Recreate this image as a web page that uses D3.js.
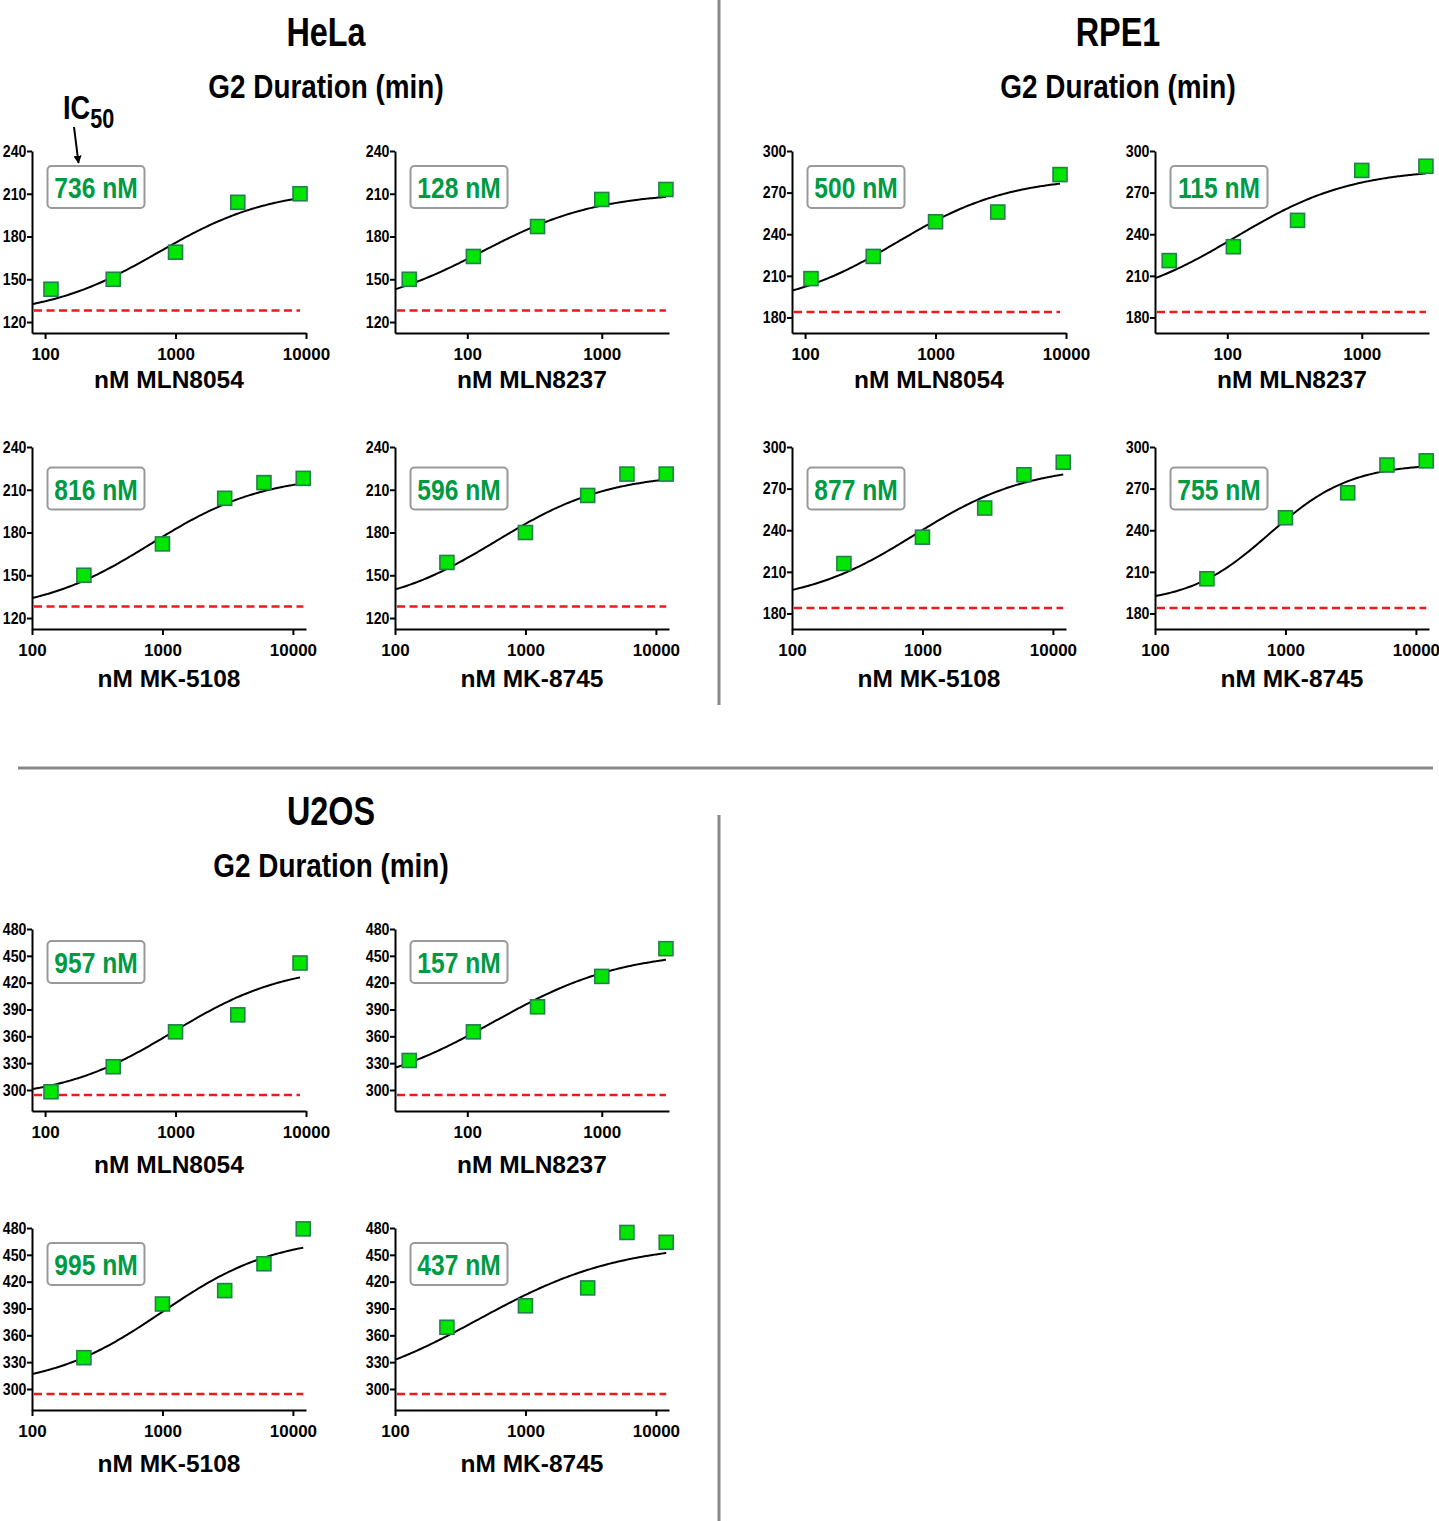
<!DOCTYPE html>
<html><head><meta charset="utf-8">
<script src="https://cdn.jsdelivr.net/npm/d3@7"></script>
<style>body{margin:0;background:#fff} svg{display:block}</style>
</head><body>
<svg id="c" width="1439" height="1521"></svg>
<script>
// ---------------- DATA ----------------
const cellLines = ["HeLa", "RPE1", "U2OS"];
const drugs = ["MLN8054", "MLN8237", "MK-5108", "MK-8745"];
const dosesMLN8054 = [111, 333, 1000, 3000, 9000];
const dosesMLN8237 = [37, 111, 333, 1000, 3000];
const dosesMK5108 = [250, 1000, 3000, 6000, 12000];
const dosesMK8745 = [250, 1000, 3000, 6000, 12000];

// G2 duration (min) per drug (rows follow `drugs`)
const helaValues = [[143,150,169,204,210],[150,166,187,206,213],[150,172,204,215,218],[159,180,206,221,221]];
const rpe1Values = [[208,224,249,256,283],[221,231,250,286,289],[216,235,256,280,289],[205,249,267,287,290]];
const u2osValues = [[298,326,365,384,442],[333,365,393,427,458],[335,395,410,440,479],[369,393,413,475,464]];

// IC50 (nM)
const helaIC50 = [736, 128, 816, 596];
const rpe1IC50 = [500, 115, 877, 755];
const u2osIC50 = [957, 157, 995, 437];

// fitted curve parameters (bottom, top, Hill slope)
const helaBottom = [123.8, 127.5, 123.4, 126.3];
const helaTop    = [213.8, 211.2, 220.7, 221.7];
const helaHill   = [1, 1, 1, 1];
const rpe1Bottom = [186.3, 188.3, 186.7, 186.9];
const rpe1Top    = [281.5, 287.5, 287.0, 288.1];
const rpe1Hill   = [1, 1, 1, 1.4];
const u2osBottom = [289.4, 296.2, 301.2, 292.5];
const u2osTop    = [440.4, 456.1, 471.0, 463.3];
const u2osHill   = [1, 0.9, 1, 0.8];

// control (untreated) G2 duration, red dashed line
const helaControl = 128;
const rpe1Control = 184;
const u2osControl = 294.5;

// tick labels
const helaTicks = [120, 150, 180, 210, 240];
const rpe1Ticks = [180, 210, 240, 270, 300];
const u2osTicks = [300, 330, 360, 390, 420, 450, 480];
const xTicksWide = [100, 1000, 10000];
const xTicksMLN8237 = [100, 1000];

// ---------------- LAYOUT ----------------
const svg = d3.select("#c");
const FONT = "'Liberation Sans', Arial, Helvetica, sans-serif";
const GREEN = "#009a44";
const W = 274, H = 182;
const rowTop = [151, 447, 929, 1228];
const colLeft = [32, 395];
const rowXTitle = [388.3, 687, 1173, 1472];
const rowBoxOff = [15, 20.5, 12, 15];

const blocks = [
  {name: cellLines[0], values: helaValues, ic50: helaIC50, bottom: helaBottom, top: helaTop, hill: helaHill, control: helaControl, yTicks: helaTicks, yDomain: [112.3, 240], dx: 0, rows: [0, 1]},
  {name: cellLines[1], values: rpe1Values, ic50: rpe1IC50, bottom: rpe1Bottom, top: rpe1Top, hill: rpe1Hill, control: rpe1Control, yTicks: rpe1Ticks, yDomain: [168.8, 300], dx: 760, rows: [0, 1]},
  {name: cellLines[2], values: u2osValues, ic50: u2osIC50, bottom: u2osBottom, top: u2osTop, hill: u2osHill, control: u2osControl, yTicks: u2osTicks, yDomain: [276.5, 480], dx: 0, rows: [2, 3]}
];
const drugDoses = [dosesMLN8054, dosesMLN8237, dosesMK5108, dosesMK8745];
const drugXDomain = [[79.4, 10000], [29, 3162], [100, 12600], [100, 12600]];
const drugXTicks = [xTicksWide, xTicksMLN8237, xTicksWide, xTicksWide];

function narrowText(g, x, y, txt, size, opts = {}) {
  return g.append("text")
    .attr("transform", `translate(${x},${y}) scale(${opts.sx || 0.82},1)`)
    .attr("text-anchor", opts.anchor || "middle")
    .attr("font-family", FONT).attr("font-weight", "bold")
    .attr("font-size", size).attr("fill", opts.fill || "#000")
    .text(txt);
}

// dividers
svg.append("line").attr("x1", 719).attr("x2", 719).attr("y1", 0).attr("y2", 705).attr("stroke", "#888").attr("stroke-width", 3);
svg.append("line").attr("x1", 18).attr("x2", 1433).attr("y1", 768).attr("y2", 768).attr("stroke", "#888").attr("stroke-width", 3);
svg.append("line").attr("x1", 719).attr("x2", 719).attr("y1", 815).attr("y2", 1521).attr("stroke", "#888").attr("stroke-width", 3);

// block titles
const titlePos = [[326, 46, 98], [1118, 46, 98], [331, 825, 877]];
blocks.forEach((b, bi) => {
  narrowText(svg, titlePos[bi][0], titlePos[bi][1], b.name, 41, {sx: 0.79});
  narrowText(svg, titlePos[bi][0], titlePos[bi][2], "G2 Duration (min)", 34, {sx: 0.82});
});

// IC50 annotation
const ic = svg.append("text").attr("transform", "translate(63,119) scale(0.8,1)")
  .attr("font-family", FONT).attr("font-weight", "bold").attr("font-size", 34);
ic.append("tspan").text("IC");
ic.append("tspan").attr("font-size", 27).attr("dy", 9).text("50");
svg.append("defs").append("marker").attr("id", "ah").attr("viewBox", "0 0 10 10")
  .attr("refX", 9).attr("refY", 5).attr("markerWidth", 4).attr("markerHeight", 4).attr("orient", "auto")
  .append("path").attr("d", "M0,0 L10,5 L0,10 z").attr("fill", "#000");
svg.append("line").attr("x1", 74).attr("y1", 127).attr("x2", 78.5).attr("y2", 163)
  .attr("stroke", "#000").attr("stroke-width", 2).attr("marker-end", "url(#ah)");

// panels
blocks.forEach(b => {
  drugs.forEach((drug, di) => {
    const row = b.rows[Math.floor(di / 2)];
    const col = di % 2;
    const left = b.dx + colLeft[col];
    const top = rowTop[row];
    const g = svg.append("g").attr("transform", `translate(${left},${top})`);
    const x = d3.scaleLog().domain(drugXDomain[di]).range([0, W]);
    const y = d3.scaleLinear().domain(b.yDomain).range([H, 0]);
    const doses = drugDoses[di];
    const vals = b.values[di];
    const xmin = drugXDomain[di][0], xmax = doses[doses.length - 1];

    // control dashed line
    g.append("line").attr("x1", x(xmin) + 2).attr("x2", x(xmax))
      .attr("y1", y(b.control)).attr("y2", y(b.control))
      .attr("stroke", "#f01818").attr("stroke-width", 2.5).attr("stroke-dasharray", "8,4.5");

    // fitted curve
    const bot = b.bottom[di], tp = b.top[di], h = b.hill[di], ic50 = b.ic50[di];
    const lx = d3.scaleLinear().domain([0, 120]).range([Math.log10(xmin), Math.log10(xmax)]);
    const pts = d3.range(121).map(i => {
      const xv = Math.pow(10, lx(i));
      return [xv, bot + (tp - bot) / (1 + Math.pow(ic50 / xv, h))];
    });
    g.append("path").datum(pts)
      .attr("d", d3.line().x(d => x(d[0])).y(d => y(d[1])).curve(d3.curveBasis))
      .attr("fill", "none").attr("stroke", "#000").attr("stroke-width", 2);

    // axes
    const ya = g.append("g").call(d3.axisLeft(y).tickValues(b.yTicks).tickSize(5).tickSizeOuter(0).tickPadding(1));
    const xa = g.append("g").attr("transform", `translate(0,${H})`)
      .call(d3.axisBottom(x).tickValues(drugXTicks[di]).tickFormat(d3.format("d")).tickSize(6).tickSizeOuter(0).tickPadding(9));
    [ya, xa].forEach(a => {
      a.select(".domain").attr("stroke", "#000").attr("stroke-width", 2);
      a.selectAll(".tick line").attr("stroke", "#000").attr("stroke-width", 2);
      a.selectAll(".tick text").attr("font-family", FONT).attr("font-weight", "bold").attr("fill", "#000");
    });
    ya.selectAll(".tick text").attr("font-size", 16.5)
      .attr("x", null).attr("transform", "translate(-5.5,0) scale(0.86,1)");
    xa.selectAll(".tick text").attr("font-size", 17);

    // data points
    g.selectAll("rect.pt").data(doses.map((d, i) => [d, vals[i]])).enter().append("rect")
      .attr("class", "pt")
      .attr("x", d => x(d[0]) - 7).attr("y", d => y(d[1]) - 7)
      .attr("width", 14).attr("height", 14)
      .attr("fill", "#00e600").attr("stroke", "#23804a").attr("stroke-width", 1.6);

    // IC50 box
    const bx = 15.5, by = rowBoxOff[row], bw = 97, bh = 42;
    g.append("rect").attr("x", bx).attr("y", by).attr("width", bw).attr("height", bh)
      .attr("rx", 4).attr("fill", "#fff").attr("stroke", "#999").attr("stroke-width", 2);
    narrowText(g, bx + bw / 2, by + 32, `${ic50} nM`, 30, {fill: GREEN, sx: 0.82});

    // axis title
    svg.append("text").attr("x", left + W / 2).attr("y", rowXTitle[row])
      .attr("text-anchor", "middle").attr("font-family", FONT).attr("font-weight", "bold")
      .attr("font-size", 24.5).attr("fill", "#000").text(`nM ${drug}`);
  });
});
</script>
</body></html>
